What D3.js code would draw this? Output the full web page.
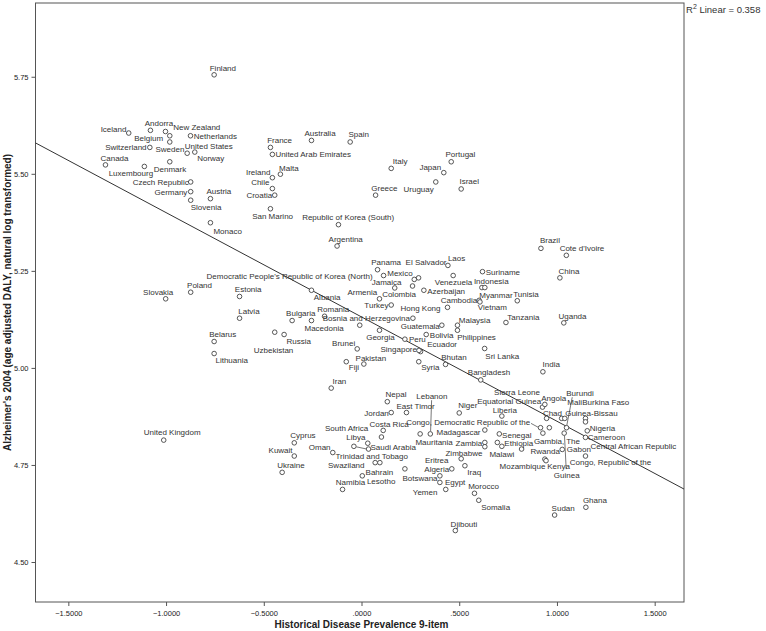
<!DOCTYPE html>
<html>
<head>
<meta charset="utf-8">
<script src="https://cdn.jsdelivr.net/npm/d3@7"></script>
<style>
  body { margin: 0; background: #fff; }
  svg { display: block; }
</style>
</head>
<body>
<div id="chart"></div>
<script>
// Scatter: historical disease prevalence vs Alzheimer's DALY (log)
// values, one entry per country

const countries = [
  "Finland","Iceland","Andorra","New Zealand","Belgium","Sweden","Switzerland","Netherlands",
  "United States","Norway","Canada","Denmark","Luxembourg","Czech Republic","Germany","Austria",
  "Slovenia","Ireland","Malta","Chile","Croatia","France","United Arab Emirates","San Marino",
  "Monaco","Australia","Spain","Italy","Greece","Republic of Korea (South)","Argentina","Portugal",
  "Japan","Uruguay","Israel","Slovakia","Poland","Estonia","Latvia","Bulgaria",
  "Belarus","Lithuania","Uzbekistan","Russia","Albania","Democratic People's Republic of Korea (North)","Romania","Macedonia",
  "Bosnia and Herzegovina","Georgia","Panama","Mexico","El Salvador","Jamaica","Colombia","Armenia",
  "Turkey","Laos","Venezuela","Azerbaijan","Hong Kong","Guatemala","Peru","Bolivia",
  "Ecuador","Singapore","Brunei","Pakistan","Fiji","Syria","Bhutan","Iran",
  "Suriname","Indonesia","Myanmar","Cambodia","Vietnam","Tunisia","Malaysia","Philippines",
  "Tanzania","Sri Lanka","Bangladesh","Brazil","Cote d'Ivoire","China","Uganda","India",
  "Nepal","Lebanon","East Timor","Jordan","Niger","Costa Rica","South Africa","Congo, Democratic Republic of the",
  "Madagascar","Mauritania","Libya","Oman","Saudi Arabia","Trinidad and Tobago","Zambia",null,
  "Senegal","Ethiopia","Mozambique","Malawi","Zimbabwe","Eritrea","Swaziland","Bahrain",
  "Algeria","Iraq","Namibia","Lesotho","Botswana","Egypt","Yemen","Morocco",
  "Somalia","Djibouti","Equatorial Guinea","Angola","Sierra Leone","Liberia","Chad","Mali",
  "Guinea-Bissau","Burkina Faso","Central African Republic","Burundi","Nigeria","Cameroon","Gambia, The","Guinea",
  "Gabon","Rwanda","Kenya","Congo, Republic of the","Ghana","Sudan","United Kingdom","Cyprus",
  "Kuwait","Ukraine",null
];

const prevalence = [
  -0.754,-1.191,-1.080,-1.003,-0.981,-0.981,-1.083,-0.875,
  -0.892,-0.853,-1.310,-0.981,-1.111,-0.874,-0.874,-0.773,
  -0.874,-0.456,-0.415,-0.456,-0.444,-0.466,-0.456,-0.466,
  -0.773,-0.256,-0.058,0.152,0.072,-0.118,-0.125,0.459,
  0.421,0.380,0.510,-1.002,-0.874,-0.624,-0.624,-0.355,
  -0.754,-0.754,-0.444,-0.396,-0.256,0.113,-0.189,-0.256,
  0.263,0.092,0.082,0.270,0.292,0.261,0.170,0.092,
  0.152,0.442,0.469,0.319,0.440,0.411,0.222,0.331,
  0.302,0.294,-0.022,0.012,-0.078,0.293,0.430,-0.155,
  0.619,0.616,0.631,0.602,0.606,0.797,0.491,0.491,
  0.739,0.630,0.610,0.918,1.048,1.015,1.035,0.928,
  0.132,0.352,0.230,0.152,0.500,0.111,0.102,0.916,
  0.631,0.300,0.032,-0.039,0.036,-0.147,0.631,0.631,
  0.705,0.695,0.718,0.819,0.510,0.222,0.070,0.094,
  0.462,0.529,-0.097,0.004,0.401,0.401,0.431,0.578,
  0.600,0.480,0.926,0.938,0.961,0.718,0.947,1.024,
  1.040,1.146,1.146,1.049,1.155,1.146,0.928,1.037,
  1.027,0.938,0.944,1.146,1.148,0.988,-1.012,-0.344,
  -0.344,-0.406,-0.009
];

const alzheimers = [
  5.755,5.605,5.612,5.609,5.598,5.582,5.568,5.598,
  5.553,5.556,5.523,5.531,5.519,5.479,5.454,5.436,
  5.432,5.490,5.499,5.462,5.445,5.568,5.550,5.410,
  5.374,5.586,5.582,5.514,5.445,5.369,5.314,5.531,
  5.503,5.479,5.461,5.178,5.195,5.184,5.128,5.122,
  5.068,5.037,5.092,5.086,5.200,5.238,5.133,5.122,
  5.128,5.097,5.253,5.228,5.232,5.211,5.206,5.178,
  5.162,5.264,5.238,5.200,5.156,5.110,5.074,5.086,
  5.042,5.045,5.049,5.010,5.016,5.016,5.009,4.948,
  5.248,5.207,5.207,5.174,5.170,5.173,5.110,5.097,
  5.117,5.050,4.969,5.308,5.290,5.232,5.116,4.990,
  4.913,4.830,4.885,4.885,4.884,4.839,4.822,4.846,
  4.840,4.830,4.806,4.798,4.791,4.782,4.808,4.797,
  4.830,4.808,4.798,4.791,4.766,4.740,4.756,4.756,
  4.740,4.748,4.687,4.722,4.722,4.705,4.687,4.677,
  4.659,4.581,4.899,4.906,4.846,4.876,4.870,4.870,
  4.870,4.870,4.861,4.846,4.838,4.821,4.832,4.832,
  4.790,4.765,4.761,4.773,4.641,4.621,4.814,4.807,
  4.773,4.731,5.110
];

const xTicks = [-1.5, -1.0, -0.5, 0, 0.5, 1.0, 1.5];
const yTicks = [4.50, 4.75, 5.00, 5.25, 5.50, 5.75];
const xTitle = "Historical Disease Prevalence 9-item";
const yTitle = "Alzheimer's 2004 (age adjusted DALY, natural log transformed)";
const fitLabel = "Linear = 0.358";

// where each point label sits relative to its dot: [dx, dy, anchor]
const labelPos = {
  "Finland":[-4.4,-4.3,"s"],"Iceland":[-2.3,-1.3,"e"],"Andorra":[-5.7,-4.4,"s"],"New Zealand":[7.7,-1.7,"s"],
  "Belgium":[-6.6,5.3,"e"],"Sweden":[-14.3,9.7,"s"],"Switzerland":[-3.3,3,"e"],"Netherlands":[3.3,3,"s"],
  "United States":[-2.4,-4.7,"s"],"Norway":[2.4,9.4,"s"],"Canada":[-5,-4,"s"],"Denmark":[-16,10,"s"],
  "Luxembourg":[-35.7,9.7,"s"],"Czech Republic":[-2,3,"e"],"Germany":[-3.3,3.3,"e"],"Austria":[-4,-4.3,"s"],
  "Slovenia":[0,9.6,"s"],"Ireland":[-2,-3,"e"],"Malta":[-1.3,-3.5,"s"],"Chile":[-3,-3.7,"e"],
  "Croatia":[-2.5,3,"e"],"France":[-3.3,-4,"s"],"United Arab Emirates":[3,3,"s"],"San Marino":[-18.3,10,"s"],
  "Monaco":[3,11,"s"],"Australia":[-7,-4.4,"s"],"Spain":[-1.7,-4.6,"s"],"Italy":[1.6,-4,"s"],
  "Greece":[-4.3,-3.7,"s"],"Republic of Korea (South)":[-36.3,-4.3,"s"],"Argentina":[-8.5,-4.4,"s"],"Portugal":[-5.7,-4.3,"s"],
  "Japan":[-2.6,-2.7,"e"],"Uruguay":[-2,10.4,"e"],"Israel":[-1.7,-4.6,"s"],"Slovakia":[-22.6,-4.3,"s"],
  "Poland":[-3.6,-4.4,"s"],"Estonia":[-4.7,-4,"s"],"Latvia":[-1.3,-4.3,"s"],"Bulgaria":[-6,-4.3,"s"],
  "Belarus":[-5,-4.3,"s"],"Lithuania":[1.3,9.4,"s"],"Uzbekistan":[-21,20.7,"s"],"Russia":[2.3,9.4,"s"],
  "Albania":[2.3,9.3,"s"],"Democratic People's Republic of Korea (North)":[-11,3,"e"],"Romania":[-7.3,-4.7,"s"],"Macedonia":[-7,10,"s"],
  "Bosnia and Herzegovina":[-3,3,"e"],"Georgia":[-13.3,10,"s"],"Panama":[-6.3,-4.3,"s"],"Mexico":[-1.7,-3,"e"],
  "El Salvador":[-13,-12.6,"s"],"Jamaica":[-11,-1.4,"e"],"Colombia":[-12.6,8.6,"s"],"Armenia":[-2.3,-3.6,"e"],
  "Turkey":[-2.7,3,"e"],"Laos":[0,-4,"s"],"Venezuela":[-18.4,9.7,"s"],"Azerbaijan":[3.4,4,"s"],
  "Hong Kong":[-7,4,"e"],"Guatemala":[-2,3.3,"e"],"Peru":[4,3.3,"s"],"Bolivia":[3.6,3.7,"s"],
  "Ecuador":[6.7,-4.3,"s"],"Singapore":[-2,1.5,"e"],"Brunei":[-2,-3,"e"],"Pakistan":[-8.3,-3.4,"s"],
  "Fiji":[2.6,8.4,"s"],"Syria":[2.4,8.7,"s"],"Bhutan":[-4.3,-4.7,"s"],"Iran":[1.3,-4.4,"s"],
  "Suriname":[3.3,3,"s"],"Indonesia":[-8,-3.6,"s"],"Myanmar":[-5.6,10.4,"s"],"Cambodia":[-2,3,"e"],
  "Vietnam":[-2.2,8.5,"s"],"Tunisia":[-4,-4,"s"],"Malaysia":[1.3,-2.7,"s"],"Philippines":[-0.3,9.6,"s"],
  "Tanzania":[1.4,-2.6,"s"],"Sri Lanka":[0.7,10,"s"],"Bangladesh":[-12.9,-4.5,"s"],"Brazil":[-1,-5,"s"],
  "Cote d'Ivoire":[-6.7,-4,"s"],"China":[-1.3,-4,"s"],"Uganda":[-5.3,-4,"s"],"India":[-0.3,-4.3,"s"],
  "Nepal":[-1.7,-4.3,"s"],"Lebanon":[-14,-35,"s"],"East Timor":[-10,-4,"s"],"Jordan":[-2.4,3,"e"],
  "Niger":[-1,-4.7,"s"],"Costa Rica":[-13.7,-3,"s"],"South Africa":[-13.3,-5.7,"e"],"Congo, Democratic Republic of the":[-10.3,-2.6,"e"],
  "Madagascar":[-4.3,5,"e"],"Mauritania":[-4.7,10.6,"s"],"Libya":[-2.3,-3.3,"e"],"Oman":[-23.3,3.4,"e"],
  "Saudi Arabia":[2,1.3,"s"],"Trinidad and Tobago":[2.7,6.4,"s"],"Zambia":[-2.6,3.7,"e"],
  "Senegal":[2.8,3.6,"s"],"Ethiopia":[7,4,"s"],"Mozambique":[-2.3,22.4,"s"],"Malawi":[-7.3,7.7,"e"],
  "Zimbabwe":[-15.7,-2.7,"s"],"Eritrea":[20,-5.7,"s"],"Swaziland":[-10.7,5,"e"],"Bahrain":[-14.3,12.4,"s"],
  "Algeria":[-2.6,3.3,"e"],"Iraq":[2.4,9.6,"s"],"Namibia":[-6.7,-4,"s"],"Lesotho":[4.6,8.3,"s"],
  "Botswana":[-2.3,5.6,"e"],"Egypt":[5,3,"s"],"Yemen":[-8.3,6,"e"],"Morocco":[-6.3,-4.3,"s"],
  "Somalia":[2.4,9.4,"s"],"Djibouti":[-4.7,-4,"s"],"Equatorial Guinea":[-1.3,-3.3,"e"],"Angola":[-3.6,-3.7,"s"],
  "Sierra Leone":[-9.4,-32.6,"e"],"Liberia":[-9,-3.4,"s"],"Chad":[-3.7,-2.6,"s"],"Mali":[5.7,-13,"s"],
  "Guinea-Bissau":[0.4,-2.6,"s"],"Burkina Faso":[-3.3,-13.3,"s"],"Central African Republic":[5,27.6,"s"],"Burundi":[-0.3,-31.6,"s"],
  "Nigeria":[2.6,0.6,"s"],"Cameroon":[2.3,3,"s"],"Gambia, The":[-9,10.7,"s"],"Guinea":[-10.4,44.7,"s"],
  "Gabon":[4.6,3,"s"],"Rwanda":[-14.3,-4.7,"s"],"Kenya":[1.2,8.2,"s"],"Congo, Republic of the":[-15.7,9.3,"s"],
  "Ghana":[-3,-4,"s"],"Sudan":[-3,-4,"s"],"United Kingdom":[-20,-4.7,"s"],"Cyprus":[-4,-4.4,"s"],
  "Kuwait":[-1.7,-3,"e"],"Ukraine":[-5,-4.3,"s"]
};

// leader lines for labels pushed away from their dot: [x1, y1, x2, y2] from the dot
const leaders = {
  "Lebanon":[1.3,-33.7,0.3,-2.7],
  "Congo, Democratic Republic of the":[-9.5,-4.3,-2.5,-0.5],
  "Burundi":[5.7,-30.5,0.3,-2.5],
  "Guinea":[2,36,0.3,2.5],
  "Oman":[2.5,0.5,12.7,2.7]
};

const width = 766, height = 631;
const margin = {top: 3, right: 82, bottom: 29, left: 35.5};
const plotW = width - margin.left - margin.right;
const plotH = height - margin.top - margin.bottom;

const data = countries.map((c, i) => ({name: c, x: prevalence[i], y: alzheimers[i]}));

const svg = d3.select("#chart").append("svg")
  .attr("width", width)
  .attr("height", height);

const g = svg.append("g")
  .attr("transform", "translate(" + margin.left + "," + margin.top + ")");

const x = d3.scaleLinear().domain([-1.668, 1.650]).range([0, plotW]);
const y = d3.scaleLinear().domain([4.397, 5.940]).range([plotH, 0]);

// SPSS style numbers: .5000 instead of 0.5000
const spss = (f) => (v) => f(v).replace(/^(-?)0\./, "$1.");

// frame
g.append("rect")
  .attr("width", plotW).attr("height", plotH)
  .attr("fill", "none").attr("stroke", "#555").attr("stroke-width", 1);

// axes
const xAxis = g.append("g")
  .attr("transform", "translate(0," + plotH + ")")
  .call(d3.axisBottom(x).tickValues(xTicks).tickSize(4).tickFormat(spss(d3.format(".4f"))));
const yAxis = g.append("g")
  .call(d3.axisLeft(y).tickValues(yTicks).tickSize(4).tickFormat(d3.format(".2f")));

[xAxis, yAxis].forEach(a => {
  a.select(".domain").remove();
  a.selectAll("line").attr("stroke", "#555");
  a.selectAll("text")
    .attr("fill", "#222")
    .style("font-family", "'Liberation Sans', Arial, sans-serif")
    .style("font-size", "7.5px");
});
xAxis.selectAll("text").attr("dy", "0.9em");

// axis titles
svg.append("text")
  .attr("x", margin.left + x(0)).attr("y", 628)
  .attr("text-anchor", "middle")
  .style("font-family", "'Liberation Sans', Arial, sans-serif")
  .style("font-size", "10px").style("font-weight", "bold")
  .attr("fill", "#222")
  .text(xTitle);

svg.append("text")
  .attr("transform", "translate(11," + (margin.top + plotH / 2) + ") rotate(-90)")
  .attr("text-anchor", "middle")
  .style("font-family", "'Liberation Sans', Arial, sans-serif")
  .style("font-size", "10px").style("font-weight", "bold")
  .attr("fill", "#222")
  .text(yTitle);

// least squares fit
const mx = d3.mean(prevalence), my = d3.mean(alzheimers);
let sxy = 0, sxx = 0;
data.forEach(d => { sxy += (d.x - mx) * (d.y - my); sxx += (d.x - mx) * (d.x - mx); });
const slope = sxy / sxx, intercept = my - slope * mx;
const xd = x.domain();

g.append("line")
  .attr("x1", x(xd[0])).attr("y1", y(intercept + slope * xd[0]))
  .attr("x2", x(xd[1])).attr("y2", y(intercept + slope * xd[1]))
  .attr("stroke", "#333").attr("stroke-width", 1);

// leader lines
g.append("g").selectAll("line")
  .data(data.filter(d => leaders[d.name]))
  .enter().append("line")
  .attr("x1", d => x(d.x) + leaders[d.name][0])
  .attr("y1", d => y(d.y) + leaders[d.name][1])
  .attr("x2", d => x(d.x) + leaders[d.name][2])
  .attr("y2", d => y(d.y) + leaders[d.name][3])
  .attr("stroke", "#555").attr("stroke-width", 0.8);

// dots
g.append("g").selectAll("circle")
  .data(data).enter()
  .append("circle")
  .attr("cx", d => x(d.x))
  .attr("cy", d => y(d.y))
  .attr("r", 2.3)
  .attr("fill", "#fff")
  .attr("stroke", "#444")
  .attr("stroke-width", 0.9);

// point labels
g.append("g").selectAll("text")
  .data(data.filter(d => d.name && labelPos[d.name])).enter()
  .append("text")
  .attr("x", d => x(d.x) + labelPos[d.name][0])
  .attr("y", d => y(d.y) + labelPos[d.name][1])
  .attr("text-anchor", d => labelPos[d.name][2] === "e" ? "end" : "start")
  .style("font-family", "'Liberation Sans', Arial, sans-serif")
  .style("font-size", "8px")
  .attr("fill", "#333")
  .text(d => d.name);

// R squared note, top right outside the frame
const note = svg.append("text")
  .attr("x", margin.left + plotW + 2).attr("y", 13)
  .style("font-family", "'Liberation Sans', Arial, sans-serif")
  .style("font-size", "9.5px")
  .attr("fill", "#333");
note.append("tspan").text("R");
note.append("tspan").attr("dy", -4).style("font-size", "7px").text("2");
note.append("tspan").attr("dy", 4).text(" " + fitLabel);
</script>
</body>
</html>
